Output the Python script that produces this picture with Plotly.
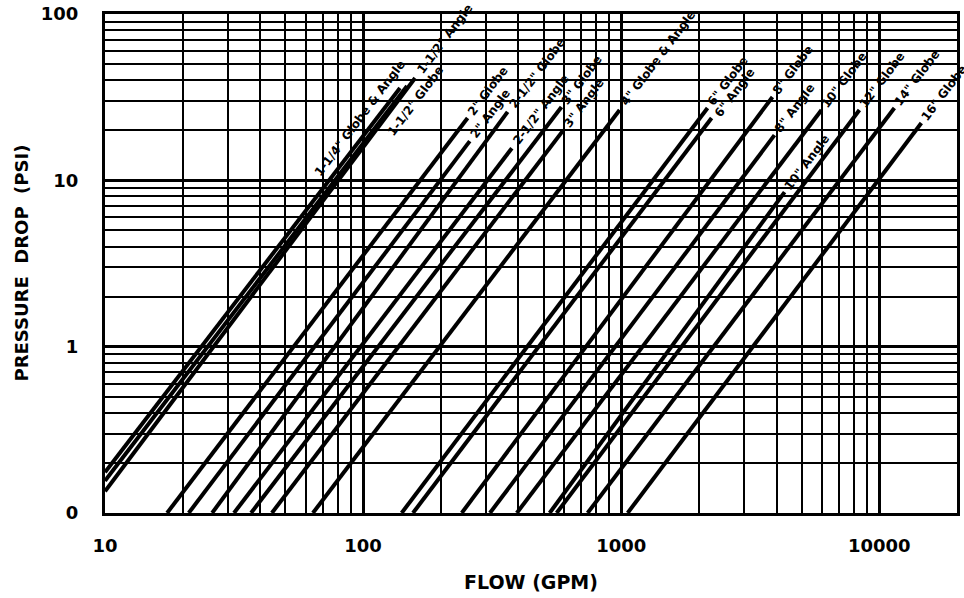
import math
import plotly.graph_objects as go

# ---- data ----
labels = ['1-1/4" Globe & Angle', '1-1/2" Globe', '1-1/2" Angle',
          '2" Globe', '2" Angle', '2-1/2" Globe', '2-1/2" Angle',
          '3" Globe', '3" Angle', '4" Globe & Angle',
          '6" Globe', '6" Angle', '8" Globe', '8" Angle',
          '10" Globe', '10" Angle', '12" Globe', '14" Globe', '16" Globe']
flow_start = [10, 10, 10,
              17.4, 21.1, 26.0, 31.6, 36.8, 44.3, 63.9,
              141, 156, 241, 310, 394, 528, 562, 741, 1059]
dp_start = [0.176, 0.156, 0.135,
            0.1, 0.1, 0.1, 0.1, 0.1, 0.1, 0.1,
            0.1, 0.1, 0.1, 0.1, 0.1, 0.1, 0.1, 0.1, 0.1]
flow_end = [139, 148, 159,
            254, 259, 363, 377, 587, 598, 986,
            2160, 2240, 3855, 3926, 5970, 4296, 8375, 11440, 14550]
dp_end = [35.9, 36.9, 41.2,
          23.7, 17.2, 25.8, 15.6, 27.6, 20.1, 26.5,
          27.2, 23.7, 31.7, 18.7, 26.5, 8.5, 26.5, 27.2, 22.1]

x_tickvals = [10, 100, 1000, 10000]
x_ticktext = ["10", "100", "1000", "10000"]
y_tickvals = [0.1, 1, 10, 100]
y_ticktext = ["0", "1", "10", "100"]

# ---- styling ----
FONT = "DejaVu Sans"
ANG = 53.0
LSIZE = 12
ca, sa = math.cos(math.radians(ANG)), math.sin(math.radians(ANG))
# label offsets (along line, perpendicular toward upper-left), px
special = {0: (-48, 14), 1: (-7, -16), 11: (None, -3)}

fig = go.Figure()
for i, name in enumerate(labels):
    fig.add_trace(go.Scatter(
        x=[flow_start[i], flow_end[i]], y=[dp_start[i], dp_end[i]],
        mode="lines", line=dict(color="black", width=4),
        showlegend=False, hoverinfo="skip"))
    L = 0.64 * LSIZE * len(name)
    along, perp = special.get(i, (None, 0))
    if along is None:
        along = L / 2 + 3
    fig.add_annotation(
        x=math.log10(flow_end[i]), y=math.log10(dp_end[i]),
        xref="x", yref="y", text=name, showarrow=False,
        textangle=-ANG, xanchor="center", yanchor="middle",
        xshift=along * ca - perp * sa, yshift=along * sa + perp * ca,
        font=dict(family=FONT, size=LSIZE, color="black", weight="bold"))

fig.add_annotation(x=0.5, y=0, xref="paper", yref="paper", yshift=-69,
                   text="FLOW (GPM)", showarrow=False, xanchor="center", yanchor="middle",
                   font=dict(family=FONT, size=19, color="black", weight="bold"))
fig.add_annotation(x=0, y=0.5, xref="paper", yref="paper", xshift=-84,
                   text="PRESSURE  DROP  (PSI)", showarrow=False, textangle=-90,
                   xanchor="center", yanchor="middle",
                   font=dict(family=FONT, size=18, color="black", weight="bold"))

axis_common = dict(
    type="log", showline=True, mirror=True, linecolor="black", linewidth=3,
    showgrid=True, gridcolor="black", gridwidth=3, zeroline=False,
    ticks="", automargin=False, ticklabeloverflow="allow",
    tickfont=dict(family=FONT, size=18, color="black", weight="bold"),
    minor=dict(showgrid=True, gridcolor="black", gridwidth=1.5, dtick="D1", ticks=""),
)
fig.update_xaxes(range=[1, math.log10(20000)], tickvals=x_tickvals, ticktext=x_ticktext,
                 ticklabelstandoff=14, **axis_common)
fig.update_yaxes(range=[-1, 2], tickvals=y_tickvals, ticktext=y_ticktext,
                 ticklabelstandoff=20, **axis_common)

fig.update_layout(width=964, height=598, margin=dict(l=105, r=7, t=14, b=85),
                  paper_bgcolor="white", plot_bgcolor="white", showlegend=False)

fig.write_html("out.html", config={"displayModeBar": False},
               post_script="document.body.style.margin='0';document.body.style.overflow='hidden';")
